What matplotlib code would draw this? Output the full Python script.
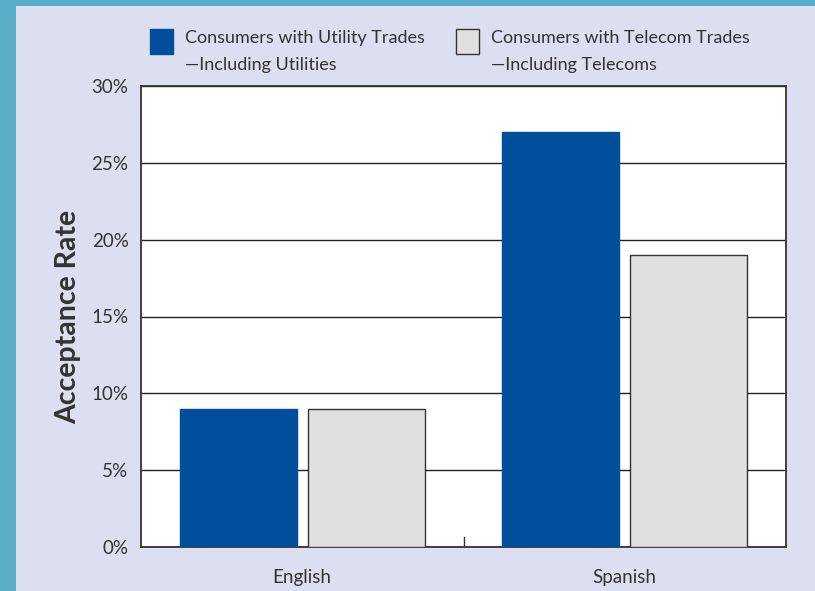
import matplotlib
matplotlib.use("Agg")
import matplotlib.pyplot as plt
from matplotlib.patches import Rectangle

# acceptance rates (%) by application language
languages = ["English", "Spanish"]
utility_rates = [9, 27]
telecom_rates = [9, 19]
series_labels = ["Consumers with Utility Trades\n\u2014Including Utilities",
                 "Consumers with Telecom Trades\n\u2014Including Telecoms"]
yticks = [0, 5, 10, 15, 20, 25, 30]

BLUE = "#014f9c"
GREY = "#dfe0df"
PANEL = "#dcdff0"
FRAME = "#5aadc7"
INK = "#333333"

plt.rcParams["font.family"] = ["Lato", "DejaVu Sans"]

fig = plt.figure(figsize=(8.15, 5.91), dpi=100)
fig.patch.set_facecolor(FRAME)
fig.patches.append(Rectangle((16 / 815, 0), 1, 1 - 6 / 591, transform=fig.transFigure,
                             facecolor=PANEL, edgecolor="none", zorder=-5))

ax = fig.add_axes([141 / 815, 1 - 547 / 591, 645 / 815, 461 / 591])
ax.set_facecolor("white")

x = range(len(languages))
w = 0.363
off = 0.198
ax.bar([i - off for i in x], utility_rates, w, color=BLUE, edgecolor=BLUE, zorder=3)
ax.bar([i + off for i in x], telecom_rates, w, color=GREY, edgecolor=INK,
       linewidth=1.0, zorder=3)

ax.set_xlim(-0.5, 1.5)
ax.set_ylim(0, 30)
ax.set_yticks(yticks)
ax.set_yticklabels([f"{t}%" for t in yticks], fontsize=13.5, color=INK)
ax.yaxis.grid(True, color="#222222", linewidth=1.0, zorder=1)
ax.tick_params(axis="y", length=0, pad=9)
ax.set_xticks(list(x))
ax.set_xticklabels(languages, fontsize=13.5, color=INK)
ax.tick_params(axis="x", length=0, pad=16)
# divider tick between the two groups
ax.plot([0.5, 0.5], [0, 0.65], color=INK, linewidth=1.0, zorder=4)

for s in ax.spines.values():
    s.set_color(INK)
    s.set_linewidth(1.3)

ax.set_ylabel("Acceptance Rate", fontsize=20.5, fontweight="bold", color=INK)
ax.yaxis.set_label_coords(-60 / 645, 0.5)

# legend drawn above the plot area
colors = [BLUE, GREY]
xs = [150, 456]
for c, lab, px in zip(colors, series_labels, xs):
    fig.patches.append(Rectangle((px / 815, 1 - 54 / 591), 23 / 815, 25 / 591,
                                 transform=fig.transFigure, facecolor=c,
                                 edgecolor=INK if c == GREY else c,
                                 linewidth=1.0))
    fig.text((px + 35) / 815, 1 - 30 / 591, lab, fontsize=13, color=INK,
             va="top", ha="left", linespacing=1.85)

fig.savefig("out.png", dpi=100, facecolor=fig.get_facecolor())
